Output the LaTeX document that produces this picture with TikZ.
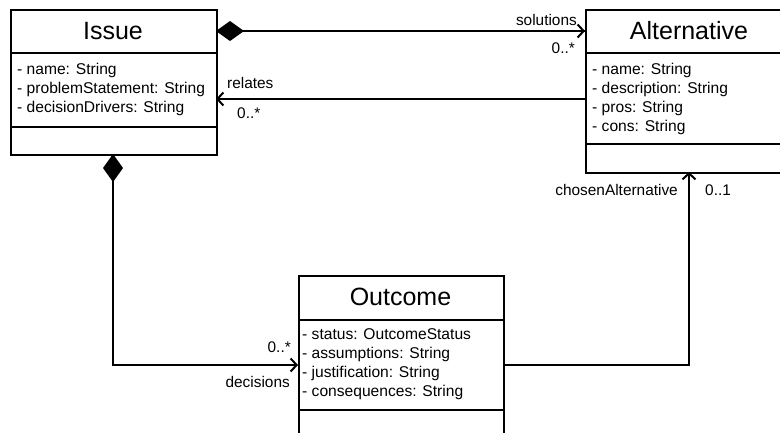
\documentclass[tikz,border=0pt]{standalone}
\usepackage{fontspec}
\setmainfont{Liberation Sans}
\usetikzlibrary{arrows.meta}
\begin{document}
\begin{tikzpicture}[x=1pt,y=-1pt,
  boxline/.style={line width=2pt},
  titlefont/.style={font=\fontsize{25}{30}\selectfont, inner sep=0pt},
  attr/.style={font=\fontsize{15.6}{19}\selectfont, anchor=base west, inner sep=0pt},
  lbl/.style={font=\fontsize{15.4}{18}\selectfont, inner sep=0pt},
  conn/.style={line width=2pt},
  openarrow/.style={-{Straight Barb[length=6pt,width=13pt,line width=2pt]}},
  compo/.style={{Diamond[length=28pt,width=20pt]}-},
]
\useasboundingbox (0,0) rectangle (780,432);
\clip (0,0) rectangle (780,432);

% Issue
\node[boxline, draw, rectangle, minimum width=206pt, minimum height=145pt, anchor=north west, inner sep=0pt] (issue) at (10,9) {};
\coordinate (issueh) at (10,53);
\coordinate (issuea) at (10,127);
\draw[boxline] (issueh) -- (issueh -| issue.east);
\draw[boxline] (issuea) -- (issuea -| issue.east);
\node[titlefont] (issuet) at (113,31) {Issue};
\node[attr] (ia1) at (17,74) {- name: String};
\node[attr] (ia2) at (17,93) {- problemStatement: String};
\node[attr] (ia3) at (17,112) {- decisionDrivers: String};

% Alternative
\node[boxline, draw, rectangle, minimum width=208pt, minimum height=163pt, anchor=north west, inner sep=0pt] (alt) at (585,9) {};
\coordinate (alth) at (585,53);
\coordinate (alta) at (585,144);
\draw[boxline] (alth) -- (alth -| alt.east);
\draw[boxline] (alta) -- (alta -| alt.east);
\node[titlefont] (altt) at (689,31) {Alternative};
\node[attr] (aa1) at (592,74) {- name: String};
\node[attr] (aa2) at (592,93) {- description: String};
\node[attr] (aa3) at (592,112) {- pros: String};
\node[attr] (aa4) at (592,131) {- cons: String};

% Outcome
\node[boxline, draw, rectangle, minimum width=205pt, minimum height=180pt, anchor=north west, inner sep=0pt] (out) at (298,275) {};
\coordinate (outh) at (298,320);
\coordinate (outa) at (298,410);
\draw[boxline] (outh) -- (outh -| out.east);
\draw[boxline] (outa) -- (outa -| out.east);
\node[titlefont] (outt) at (400.5,297) {Outcome};
\node[attr] (oa1) at (302,339) {- status: OutcomeStatus};
\node[attr] (oa2) at (302,358) {- assumptions: String};
\node[attr] (oa3) at (302,377) {- justification: String};
\node[attr] (oa4) at (302,396) {- consequences: String};

% connectors
\coordinate (solS) at (216,31);
\coordinate (solE) at (585,31);
\draw[conn, compo] (solS) -- (solE);
\draw[conn, openarrow] (solS) ++(20,0) -- (solE);
\node[lbl, anchor=base east] (solL) at (577,25) {solutions};
\node[lbl, anchor=base east] (solM) at (575,53) {0..*};

\coordinate (relS) at (585,99);
\coordinate (relE) at (216,99);
\draw[conn, openarrow] (relS) -- (relE);
\node[lbl, anchor=base west] (relL) at (227,88) {relates};
\node[lbl, anchor=base west] (relM) at (237,118) {0..*};

\coordinate (decS) at (113,154);
\coordinate (decC) at (113,365);
\coordinate (decE) at (298,365);
\draw[conn, compo] (decS) -- (decC);
\draw[conn, openarrow] (decS) ++(0,20) -- (decC) -- (decE);
\node[lbl, anchor=base east] (decM) at (291,352) {0..*};
\node[lbl, anchor=base east] (decL) at (290,387) {decisions};

\coordinate (chS) at (503,365);
\coordinate (chC) at (689,365);
\coordinate (chE) at (689,172);
\draw[conn, openarrow] (chS) -- (chC) -- (chE);
\node[lbl, anchor=base east] (chL) at (678,195) {chosenAlternative};
\node[lbl, anchor=base west] (chM) at (705,195) {0..1};
\end{tikzpicture}
\end{document}
